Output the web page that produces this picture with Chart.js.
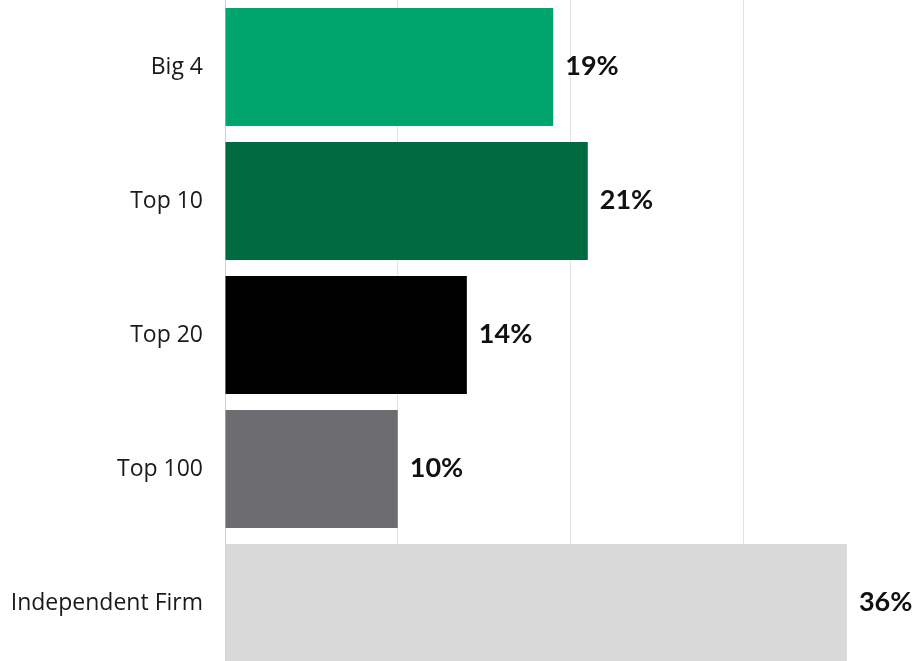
<!DOCTYPE html>
<html>
<head>
<meta charset="utf-8">
<script src="https://cdn.jsdelivr.net/npm/chart.js@4/dist/chart.umd.min.js"></script>
<style>
  html, body { margin: 0; padding: 0; background: #fff; overflow: hidden; }
  #wrap { position: absolute; left: 0; top: 0; width: 916px; height: 670px; }
</style>
</head>
<body>
<div id="wrap"><canvas id="firm-chart"></canvas></div>
<script>
// ── Data ──────────────────────────────────────────────────────────
const CATEGORIES = ["Big 4", "Top 10", "Top 20", "Top 100", "Independent Firm"];
const SHARES = [19, 21, 14, 10, 36];
const BAR_COLORS = ["#00a56e", "#006a40", "#000000", "#6d6d71", "#d9d9d9"];
const X_MAX = 40;

// value labels at the end of each bar
const endLabels = {
  id: "endLabels",
  afterDatasetsDraw(chart) {
    const { ctx } = chart;
    const meta = chart.getDatasetMeta(0);
    ctx.save();
    ctx.font = "bold 27px Lato, 'Open Sans', sans-serif";
    ctx.fillStyle = "#111";
    ctx.textAlign = "left";
    ctx.textBaseline = "middle";
    meta.data.forEach((bar, i) => {
      ctx.fillText(SHARES[i] + "%", bar.x + 12, bar.y - 1);
    });
    ctx.restore();
  }
};

const ctx = document.getElementById("firm-chart").getContext("2d");
new Chart(ctx, {
  type: "bar",
  data: {
    labels: CATEGORIES,
    datasets: [{
      data: SHARES,
      backgroundColor: BAR_COLORS,
      borderWidth: 0,
      categoryPercentage: 1,
      barPercentage: 0.88
    }]
  },
  options: {
    indexAxis: "y",
    responsive: true,
    maintainAspectRatio: false,
    animation: false,
    layout: { padding: 0 },
    plugins: { legend: { display: false }, tooltip: { enabled: false } },
    scales: {
      x: {
        min: 0, max: X_MAX,
        ticks: { display: false, stepSize: 10 },
        grid: { color: "#e4e4e4", lineWidth: 1, drawTicks: false },
        border: { display: false },
        afterFit: s => { s.height = 0; s.paddingLeft = 0; s.paddingRight = 0; }
      },
      y: {
        z: 1,
        ticks: {
          color: "#1a1a1a",
          padding: 22,
          font: { family: "'Open Sans', sans-serif", size: 23 }
        },
        grid: { display: false, drawTicks: false },
        border: { display: true, color: "#bcd6d9", width: 1 },
        afterFit: s => { s.width = 225; s.paddingTop = 0; s.paddingBottom = 0; }
      }
    }
  },
  plugins: [endLabels]
});
</script>
</body>
</html>
